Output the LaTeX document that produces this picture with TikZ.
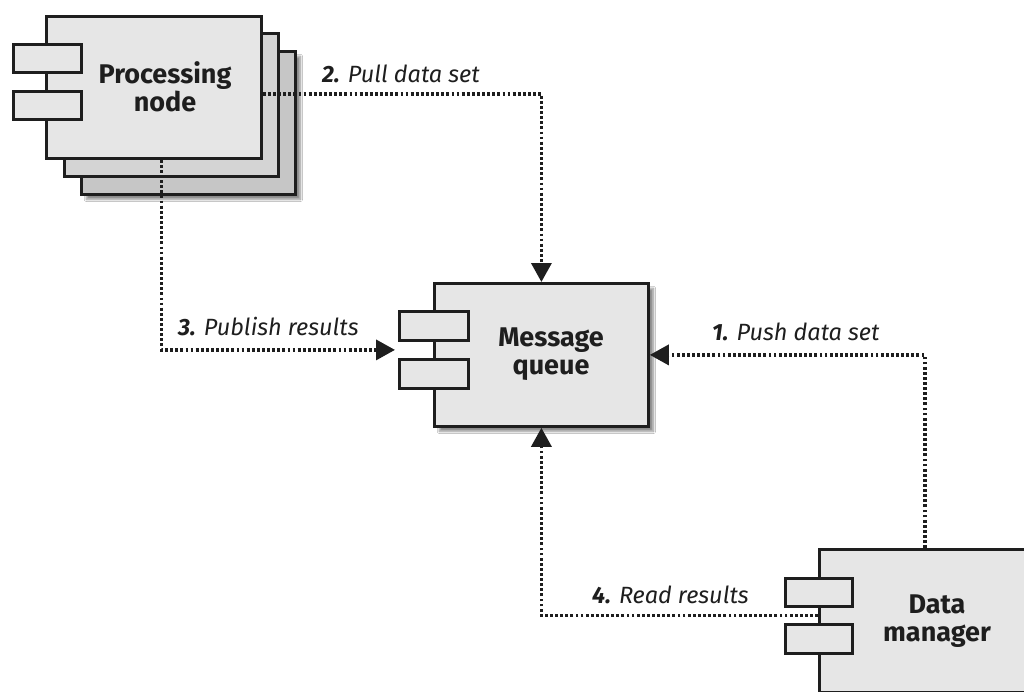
\documentclass[tikz,border=0pt]{standalone}
\usepackage{fontspec}
\setmainfont{Fira Sans}
\usetikzlibrary{arrows.meta,shadows.blur,calc}
\definecolor{boxfill}{HTML}{E6E6E6}
\definecolor{boxfillb}{HTML}{D4D4D4}
\definecolor{boxfillc}{HTML}{C6C6C6}
\definecolor{ink}{HTML}{1E1E1E}
\tikzset{
  comp/.style={draw=ink, line width=2.8pt, fill=boxfill, rectangle, inner sep=0pt,
    minimum width=214pt, minimum height=143pt, anchor=north west},
  tab/.style={draw=ink, line width=2.8pt, fill=boxfill, rectangle, inner sep=0pt,
    minimum width=68pt, minimum height=28pt, anchor=north west},
  shad/.style={blur shadow={shadow xshift=5pt, shadow yshift=-5pt, shadow blur steps=8, shadow opacity=45}},
  title/.style={font=\fontsize{27}{28}\selectfont\bfseries, text=ink, align=center, inner sep=0pt},
  lbl/.style={font=\fontsize{23.5}{26}\selectfont\itshape, text=ink, inner sep=0pt, anchor=base west},
  conn/.style={draw=ink, line width=3.4pt, dash pattern=on 2.8pt off 2.3pt,
    -{Triangle[length=19pt,width=20pt]}}
}
\begin{document}
\begin{tikzpicture}[x=1pt,y=-1pt]
\useasboundingbox (0,0) rectangle (1024,691);
\clip (0,0) rectangle (1024,691);
\fill[white] (0,0) rectangle (1024,691);
% Processing node stack
\node[comp, shad, fill=boxfillc] (pn3) at (80,50) {};
\node[comp, fill=boxfillb] (pn2) at (63,32) {};
\node[comp, minimum width=215pt, minimum height=142pt] (pn1) at (45,15) {};
\node[tab] (pnt1) at (12,43) {};
\node[tab] (pnt2) at (12,90) {};
\node[title] (pntext) at (165,87) {Processing\\node};
% Message queue
\node[comp, shad] (mq) at (433,282) {};
\node[tab, minimum width=69pt, minimum height=29pt] (mqt1) at (398,310) {};
\node[tab, minimum width=69pt, minimum height=29pt] (mqt2) at (398,358) {};
\node[title] (mqtext) at (551,354) {Message\\queue};
% Data manager
\node[comp, shad, minimum width=260pt] (dm) at (818,548) {};
\node[tab, minimum width=67pt] (dmt1) at (784,577) {};
\node[tab, minimum width=67pt, minimum height=29pt] (dmt2) at (784,623) {};
\node[title] (dmtext) at (937,621) {Data\\manager};
% connectors
\coordinate (c2s) at ($(pn1.east)+(0,6.5)$);
\draw[conn] (c2s) -| (mq.north);
\coordinate (c3s) at ($(pn1.south)+(7.5,0)$);
\coordinate (c3e) at ($($(mqt1.south west)!.5!(mqt2.north west)$)+(-3,0)$);
\draw[conn] (c3s) |- (c3e);
\coordinate (c1s) at ($(dm.north west)+(107,0)$);
\draw[conn] (c1s) |- (mq.east);
\coordinate (c4s) at ($(dmt1.south west)!.5!(dmt2.north west)$);
\draw[conn] (dm.west |- c4s) -| (mq.south);
% labels
\node[lbl] (l2) at (322,82) {\textbf{2.} Pull data set};
\node[lbl] (l3) at (178,335) {\textbf{3.} Publish results};
\node[lbl] (l1) at (712,340) {\textbf{1.} Push data set};
\node[lbl] (l4) at (592,603) {\textbf{4.} Read results};
\end{tikzpicture}
\end{document}
